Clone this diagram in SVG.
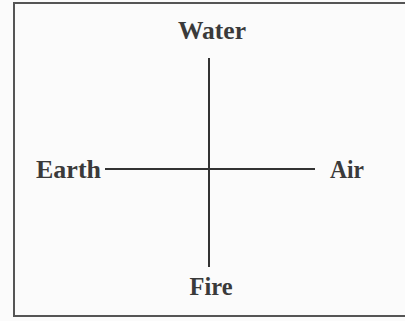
<svg xmlns="http://www.w3.org/2000/svg" width="405" height="321" viewBox="0 0 405 321">
<style>
.lbl{font-family:"Liberation Serif","Times New Roman",serif;font-weight:bold;font-size:25px;fill:#3a3a3a}
.ln{stroke:#333;stroke-width:2;fill:none}
</style>
<rect x="0" y="0" width="405" height="321" fill="#fbfbfb"/>
<rect x="14" y="3" width="392" height="313" fill="none" stroke="#555" stroke-width="2"/>
<g id="connectors">
<line class="ln" x1="209" y1="58" x2="209" y2="267"/>
<line class="ln" x1="105" y1="169" x2="315" y2="169"/>
</g>
<g id="water"><text class="lbl" x="212" y="39" text-anchor="middle" textLength="68" lengthAdjust="spacingAndGlyphs">Water</text></g>
<g id="earth"><text class="lbl" x="36" y="178" textLength="65" lengthAdjust="spacingAndGlyphs">Earth</text></g>
<g id="air"><text class="lbl" x="330" y="178" textLength="34" lengthAdjust="spacingAndGlyphs">Air</text></g>
<g id="fire"><text class="lbl" x="211" y="295" text-anchor="middle" textLength="43" lengthAdjust="spacingAndGlyphs">Fire</text></g>
</svg>
